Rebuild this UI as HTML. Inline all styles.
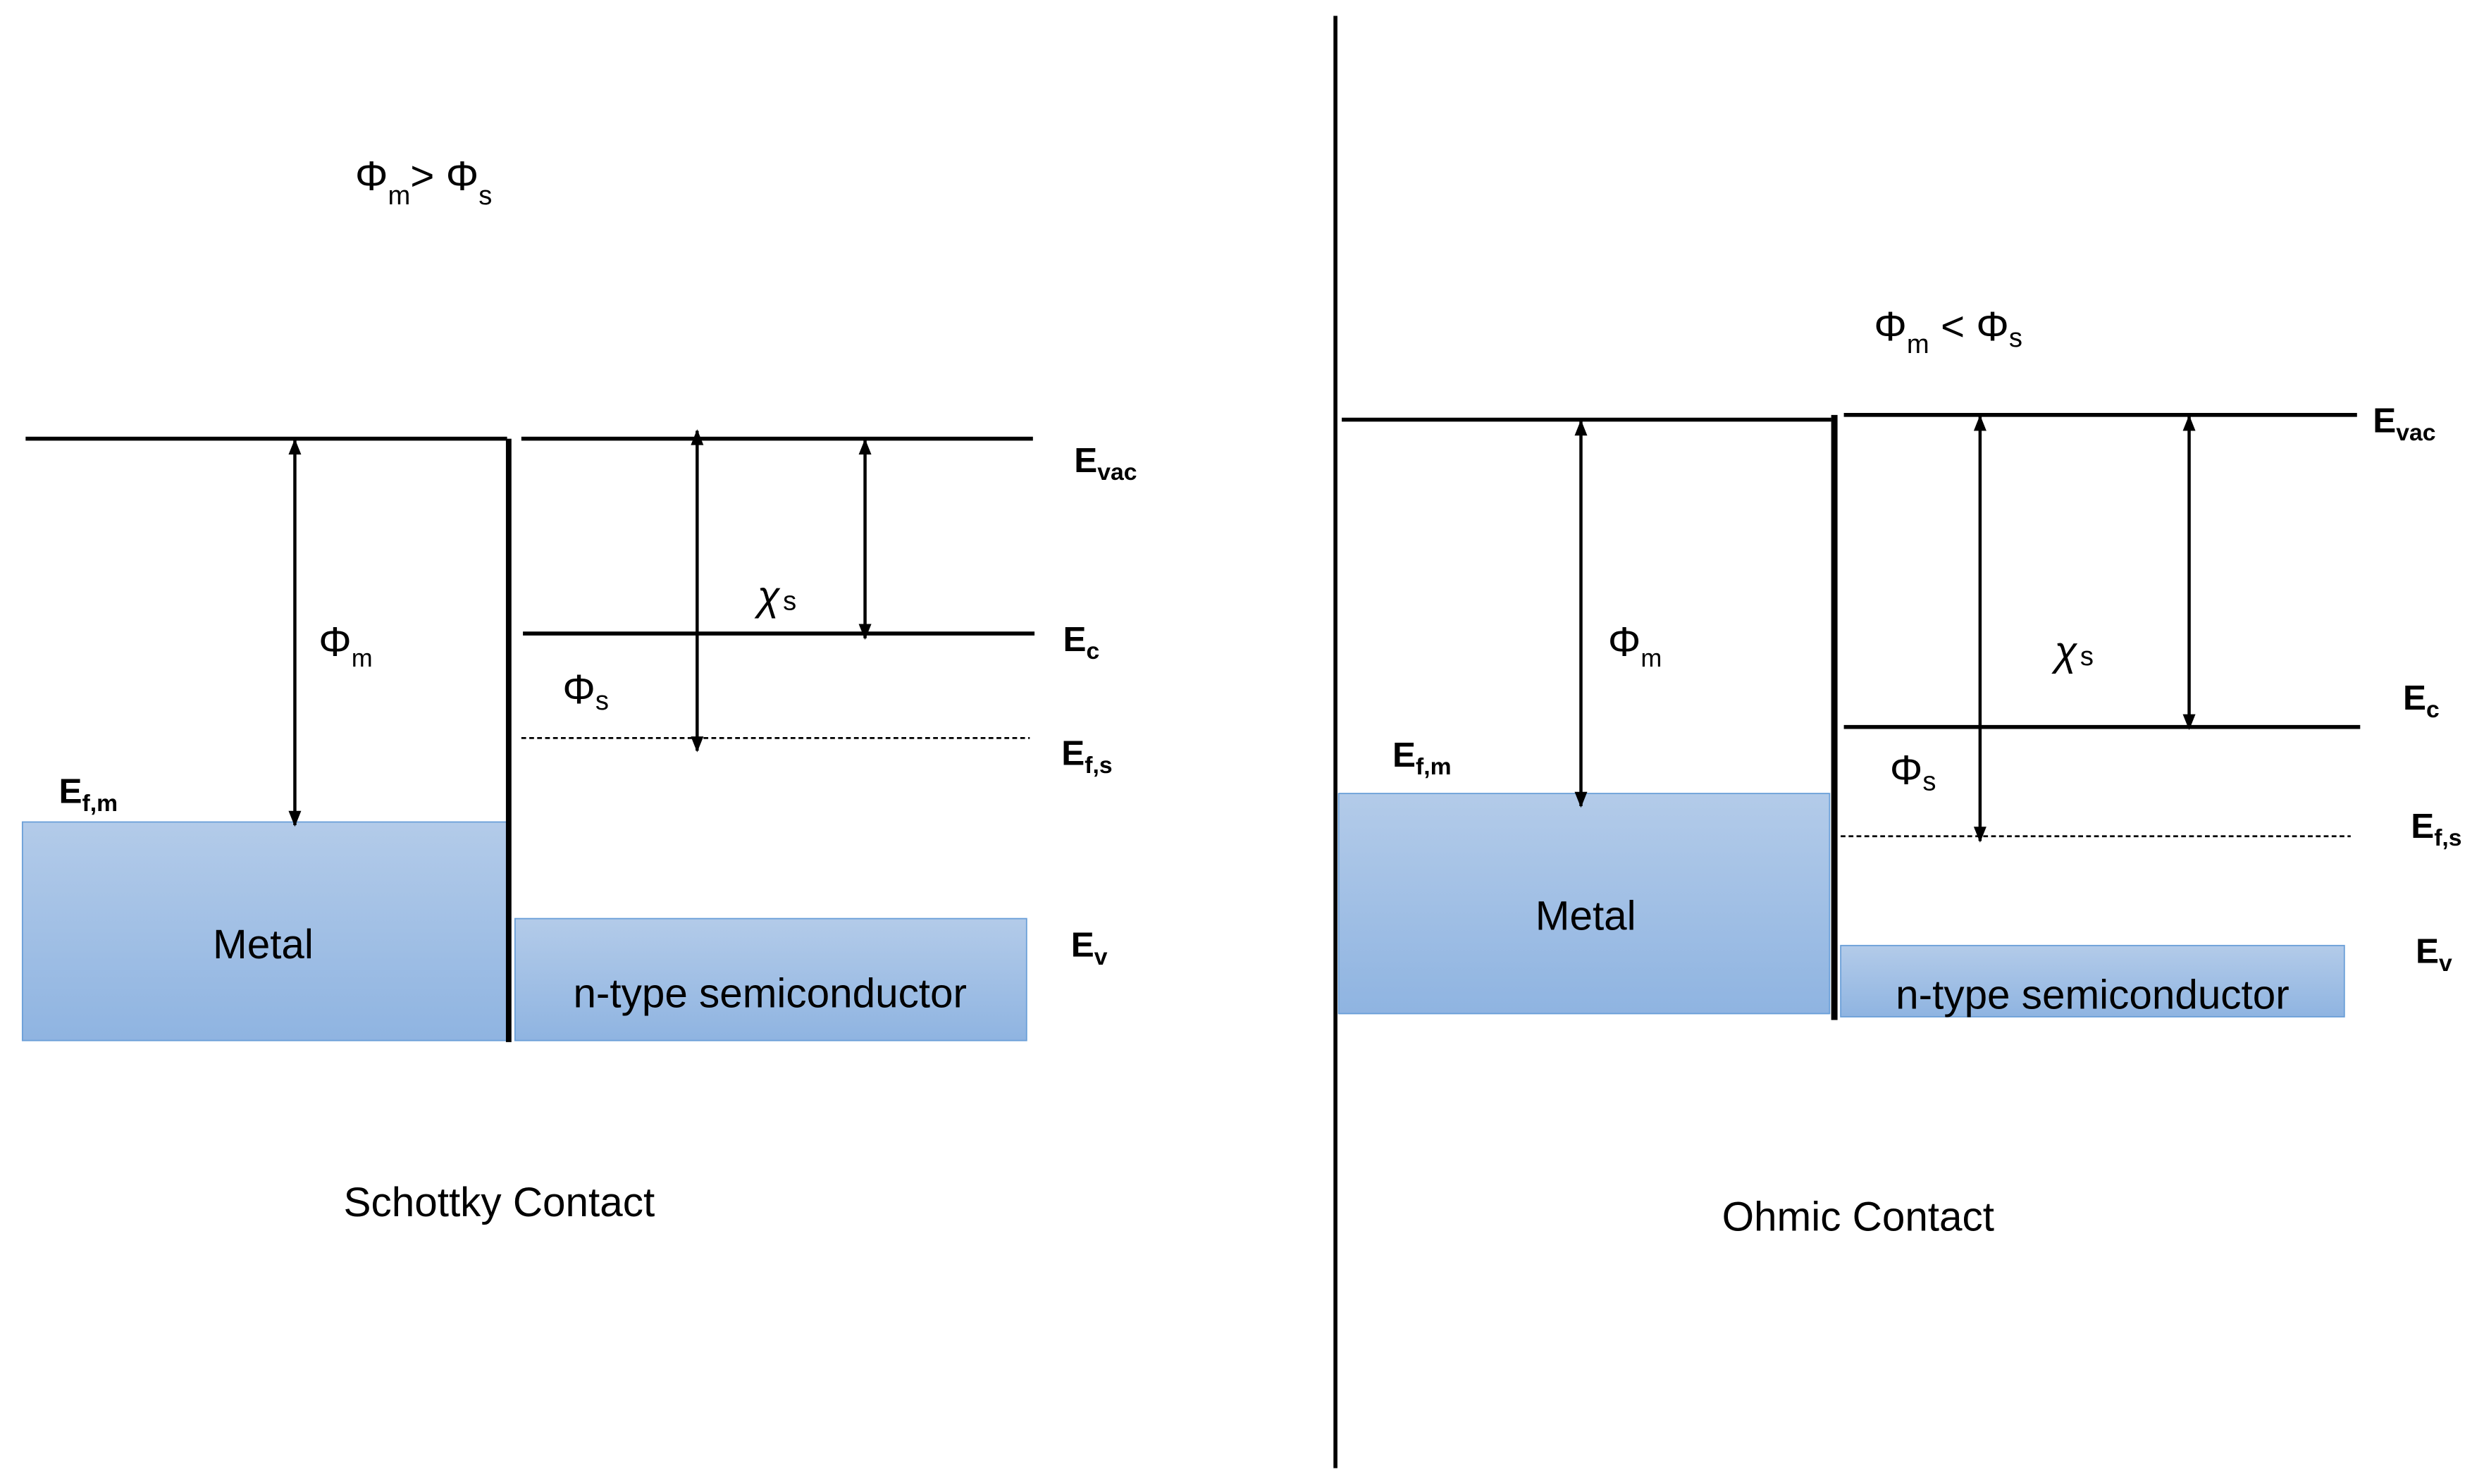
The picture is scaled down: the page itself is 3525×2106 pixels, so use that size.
<!DOCTYPE html>
<html><head><meta charset="utf-8"><style>html,body{margin:0;padding:0;background:#fff}svg{display:block}</style></head>
<body>
<svg width="3525" height="2106" viewBox="0 0 1568 937" xmlns="http://www.w3.org/2000/svg" font-family="Liberation Sans, sans-serif">
<defs>
<linearGradient id="g" x1="0" y1="0" x2="0" y2="1"><stop offset="0" stop-color="#b3cbe9"/><stop offset="1" stop-color="#8fb4e1"/></linearGradient>
<marker id="a" viewBox="0 0 10 8" refX="9" refY="4" markerWidth="11" markerHeight="8" orient="auto-start-reverse" markerUnits="userSpaceOnUse"><path d="M0,0L10,4L0,8z" fill="#000"/></marker>
</defs>
<rect width="1568" height="937" fill="#fff"/>
<line x1="843" y1="10" x2="843" y2="927" stroke="#000" stroke-width="2.5"/>

<!-- LEFT -->
<rect x="14" y="519" width="306" height="138" fill="url(#g)" stroke="#6a9fd8" stroke-width="0.8"/>
<rect x="325" y="580" width="323" height="77" fill="url(#g)" stroke="#6a9fd8" stroke-width="0.8"/>
<line x1="16" y1="277" x2="320" y2="277" stroke="#000" stroke-width="2.5"/>
<line x1="329" y1="277" x2="652" y2="277" stroke="#000" stroke-width="2.5"/>
<line x1="321" y1="277" x2="321" y2="658" stroke="#000" stroke-width="3.5"/>
<line x1="330" y1="400" x2="653" y2="400" stroke="#000" stroke-width="2.5"/>
<line x1="329" y1="466" x2="650" y2="466" stroke="#000" stroke-width="1.2" stroke-dasharray="3,2"/>
<line x1="186" y1="278" x2="186" y2="521" stroke="#000" stroke-width="2" marker-start="url(#a)" marker-end="url(#a)"/>
<line x1="546" y1="278" x2="546" y2="403" stroke="#000" stroke-width="2" marker-start="url(#a)" marker-end="url(#a)"/>
<line x1="440" y1="272" x2="440" y2="474" stroke="#000" stroke-width="2" marker-start="url(#a)" marker-end="url(#a)"/>
<g font-weight="bold" font-size="22">
<text x="678" y="298">E<tspan font-size="15" dy="5">vac</tspan></text>
<text x="671" y="411">E<tspan font-size="15" dy="5">c</tspan></text>
<text x="670" y="483">E<tspan font-size="15" dy="5">f,s</tspan></text>
<text x="676" y="604">E<tspan font-size="15" dy="5">v</tspan></text>
<text x="37" y="507">E<tspan font-size="15" dy="5">f,m</tspan></text>
</g>
<g font-size="26">
<text x="201" y="414">Φ<tspan font-size="16" dy="7">m</tspan></text>
<text x="478" y="385" font-style="italic">χ<tspan font-size="17" font-style="normal" dx="2">s</tspan></text>
<text x="355" y="444">Φ<tspan font-size="17" dy="4">s</tspan></text>
<text x="224" y="120">Φ<tspan font-size="17" dy="9">m</tspan><tspan dy="-9">&gt; Φ</tspan><tspan font-size="17" dy="9">s</tspan></text>
<text x="166" y="605" text-anchor="middle">Metal</text>
<text x="486" y="636" text-anchor="middle">n-type semiconductor</text>
<text x="315" y="768" text-anchor="middle">Schottky Contact</text>
</g>

<!-- RIGHT -->
<rect x="845" y="501" width="310" height="139" fill="url(#g)" stroke="#6a9fd8" stroke-width="0.8"/>
<rect x="1162" y="597" width="318" height="45" fill="url(#g)" stroke="#6a9fd8" stroke-width="0.8"/>
<line x1="847" y1="265" x2="1156" y2="265" stroke="#000" stroke-width="2.5"/>
<line x1="1164" y1="262" x2="1488" y2="262" stroke="#000" stroke-width="2.5"/>
<line x1="1158" y1="262" x2="1158" y2="644" stroke="#000" stroke-width="4"/>
<line x1="1164" y1="459" x2="1490" y2="459" stroke="#000" stroke-width="2.5"/>
<line x1="1162" y1="528" x2="1484" y2="528" stroke="#000" stroke-width="1.2" stroke-dasharray="3,2"/>
<line x1="998" y1="266" x2="998" y2="509" stroke="#000" stroke-width="2" marker-start="url(#a)" marker-end="url(#a)"/>
<line x1="1382" y1="263" x2="1382" y2="460" stroke="#000" stroke-width="2" marker-start="url(#a)" marker-end="url(#a)"/>
<line x1="1250" y1="263" x2="1250" y2="531" stroke="#000" stroke-width="2" marker-start="url(#a)" marker-end="url(#a)"/>
<g font-weight="bold" font-size="22">
<text x="1498" y="273">E<tspan font-size="15" dy="5">vac</tspan></text>
<text x="1517" y="448">E<tspan font-size="15" dy="5">c</tspan></text>
<text x="1522" y="529">E<tspan font-size="15" dy="5">f,s</tspan></text>
<text x="1525" y="608">E<tspan font-size="15" dy="5">v</tspan></text>
<text x="879" y="484">E<tspan font-size="15" dy="5">f,m</tspan></text>
</g>
<g font-size="26">
<text x="1015" y="414">Φ<tspan font-size="16" dy="7">m</tspan></text>
<text x="1297" y="420" font-style="italic">χ<tspan font-size="17" font-style="normal" dx="2">s</tspan></text>
<text x="1193" y="495">Φ<tspan font-size="17" dy="4">s</tspan></text>
<text x="1183" y="215">Φ<tspan font-size="17" dy="8">m</tspan><tspan dy="-8"> &lt;  Φ</tspan><tspan font-size="17" dy="4">s</tspan></text>
<text x="1001" y="587" text-anchor="middle">Metal</text>
<text x="1321" y="637" text-anchor="middle">n-type semiconductor</text>
<text x="1173" y="777" text-anchor="middle">Ohmic Contact</text>
</g>
</svg>
</body></html>
